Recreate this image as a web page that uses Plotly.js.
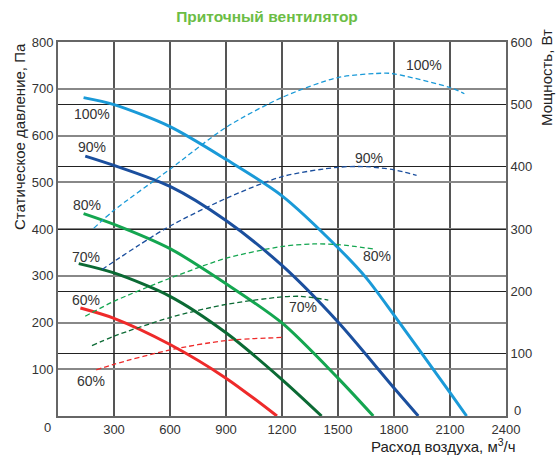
<!DOCTYPE html>
<html>
<head>
<meta charset="utf-8">
<script src="https://cdn.plot.ly/plotly-3.0.1.min.js"></script>
<style>html,body{margin:0;padding:0;background:#fff;}#chart{width:557px;height:457px;}</style>
</head>
<body>
<div id="chart"></div>
<script>
// Pressure curves (Pa) vs airflow (m3/h)
const flow100 = [137, 300, 600, 900, 1200, 1500, 1650, 1800, 2100, 2189];
const p100    = [681, 666, 619, 549, 471, 360, 296, 216, 50, 0];
const flow90  = [146, 300, 600, 900, 1200, 1500, 1800, 1930];
const p90     = [556, 536, 491, 418, 322, 201, 60, 0];
const flow80  = [137, 300, 600, 900, 1200, 1500, 1689];
const p80     = [433, 410, 358, 283, 199, 81, 0];
const flow70  = [111, 300, 600, 900, 1200, 1412];
const p70     = [326, 306, 256, 178, 78, 0];
const flow60  = [120, 300, 600, 900, 1173];
const p60     = [231, 209, 153, 81, 0];

// Power curves (W) vs airflow
const pf100 = [191, 300, 600, 900, 1200, 1500, 1750, 1800, 2100, 2177];
const w100  = [301, 330, 396, 463, 511, 543, 550, 549, 527, 517];
const pf90  = [236, 584, 900, 1200, 1500, 1650, 1800, 1921];
const w90   = [235, 302, 349, 384, 399, 400, 395, 386];
const pf80  = [146, 300, 600, 900, 1200, 1368, 1500, 1689];
const w80   = [160, 184, 221, 253, 272, 276, 275, 268];
const pf70  = [182, 300, 600, 900, 1200, 1300, 1448];
const w70   = [113, 128, 158, 179, 191, 192, 186];
const pf60  = [205, 300, 600, 900, 1200];
const w60   = [74, 83, 106, 121, 126];

const colors = ['#1a9ad8', '#1b4f9e', '#14a650', '#0b6a34', '#ee2a2a'];

// Curve labels
const labelText = ['100%', '90%', '80%', '70%', '60%', '100%', '90%', '80%', '70%', '60%'];
const labelX    = [182, 182, 155, 150, 150, 1961, 1666, 1707, 1311, 179];
const labelY    = [645, 576, 451, 341, 248, 751, 552, 343, 233, 74];

const xTicks = [300, 600, 900, 1200, 1500, 1800, 2100, 2400];
const yTicks = [100, 200, 300, 400, 500, 600, 700, 800];
const y2Ticks = [100, 200, 300, 400, 500, 600];

const solid = [[flow100,p100],[flow90,p90],[flow80,p80],[flow70,p70],[flow60,p60]];
const dashed = [[pf100,w100],[pf90,w90],[pf80,w80],[pf70,w70],[pf60,w60]];

const traces = [];
dashed.forEach((d,i)=>traces.push({x:d[0],y:d[1],yaxis:'y2',mode:'lines',
  line:{color:colors[i],width:1.3,dash:'5px,3px',shape:'spline',smoothing:0.8},hoverinfo:'skip'}));
solid.forEach((d,i)=>traces.push({x:d[0],y:d[1],mode:'lines',
  line:{color:colors[i],width:3,shape:'spline',smoothing:0.8},hoverinfo:'skip'}));

const font = {family:'"Liberation Sans", Arial, sans-serif', color:'#333'};
const annotations = labelText.map((t,i)=>({x:labelX[i],y:labelY[i],xref:'x',yref:'y',text:t,
  showarrow:false,xanchor:'center',yanchor:'middle',font:{...font,size:14,color:'#333'}}));

// helper: pixel position -> plot-area paper fraction (plot area 58..506 x, 42..416 y)
function px2paper(px, py){ return {x:(px-58)/448, y:(416-py)/374}; }

const zeroPos = px2paper(47, 428);
annotations.push({x:zeroPos.x,y:zeroPos.y,xref:'paper',yref:'paper',xanchor:'center',yanchor:'middle',
  text:'0',showarrow:false,font:{...font,size:13}});
const zero2Pos = px2paper(512, 410);
annotations.push({x:zero2Pos.x,y:zero2Pos.y,xref:'paper',yref:'paper',xanchor:'left',yanchor:'middle',
  text:'0',showarrow:false,font:{...font,size:13}});
const yTitlePos = px2paper(19, 137);
annotations.push({x:yTitlePos.x,y:yTitlePos.y,xref:'paper',yref:'paper',xanchor:'center',yanchor:'middle',
  text:'Статическое давление, Па',textangle:-90,showarrow:false,font:{...font,size:15,color:'#222'}});
const y2TitlePos = px2paper(546, 78);
annotations.push({x:y2TitlePos.x,y:y2TitlePos.y,xref:'paper',yref:'paper',xanchor:'center',yanchor:'middle',
  text:'Мощность, Вт',textangle:-90,showarrow:false,font:{...font,size:15,color:'#222'}});
const xTitlePos = px2paper(518, 445);
annotations.push({x:xTitlePos.x,y:xTitlePos.y,xref:'paper',yref:'paper',xanchor:'right',yanchor:'middle',
  text:'Расход воздуха, м<sup>3</sup>/ч',showarrow:false,font:{...font,size:15,color:'#222'}});

const layout = {
  width:557, height:457,
  margin:{l:58, r:51, t:42, b:41},
  paper_bgcolor:'#fff', plot_bgcolor:'#fff',
  showlegend:false,
  title:{text:'<b>Приточный вентилятор</b>', x:267/557, xref:'container', xanchor:'center',
    y:1-17/457, yref:'container', yanchor:'middle',
    font:{family:'"Liberation Sans", Arial, sans-serif', size:15.5, color:'#6cbd45'}},
  xaxis:{range:[0,2400], tickvals:xTicks, ticktext:xTicks.map(String), showgrid:true,
    gridcolor:'#555', gridwidth:1.5, zeroline:false, showline:true, mirror:true,
    linecolor:'#666', linewidth:2, ticks:'', tickfont:{...font,size:13}, fixedrange:true},
  yaxis:{range:[0,800], tickvals:yTicks, showgrid:true, gridcolor:'#888', gridwidth:2,
    zeroline:false, showline:true, linecolor:'#666', linewidth:2, ticks:'',
    tickfont:{...font,size:13}, fixedrange:true},
  yaxis2:{range:[0,600], overlaying:'y', side:'right', tickvals:y2Ticks, showgrid:true,
    gridcolor:'#222', gridwidth:1, zeroline:false, showline:true, linecolor:'#666', linewidth:2,
    ticks:'', tickfont:{...font,size:13}, fixedrange:true},
  annotations:annotations
};

Plotly.newPlot('chart', traces, layout, {staticPlot:true, displayModeBar:false});
</script>
</body>
</html>
